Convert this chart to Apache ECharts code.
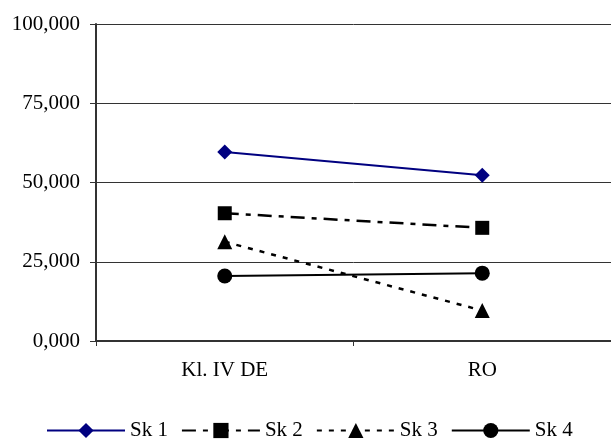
<!DOCTYPE html>
<html>
<head>
<meta charset="utf-8">
<script src="https://cdn.jsdelivr.net/npm/echarts@6/dist/echarts.min.js"></script>
<style>
html,body{margin:0;padding:0;background:#fff;}
#c{width:611px;height:439px;}
</style>
</head>
<body>
<div id="c"></div>
<script>
const categories = ['Kl. IV DE', 'RO'];
const seriesNames = ['Sk 1', 'Sk 2', 'Sk 3', 'Sk 4'];
const sk1 = [59600, 52300];
const sk2 = [40300, 35700];
const sk3 = [31300, 9600];
const sk4 = [20500, 21400];
const yTickLabels = ['0,000', '25,000', '50,000', '75,000', '100,000'];

const font = 'Liberation Serif';
const chart = echarts.init(document.getElementById('c'), null, {renderer: 'canvas'});

function mk(name, data, color, symbol, type, size, width) {
  return {
    name: name, type: 'line', data: data,
    symbol: symbol, symbolSize: size,
    lineStyle: {color: color, width: width, type: type},
    itemStyle: {color: color},
    emphasis: {disabled: true},
    animation: false
  };
}

chart.setOption({
  animation: false,
  backgroundColor: '#fff',
  grid: {left: 96, top: 24, right: -6, bottom: 98, containLabel: false},
  legend: {
    left: 46, top: 420, padding: 0,
    itemWidth: 78, itemHeight: 19, itemGap: 13,
    textStyle: {fontFamily: font, fontSize: 21, color: '#000'},
    data: seriesNames
  },
  xAxis: {
    type: 'category', data: categories, boundaryGap: true,
    axisLine: {lineStyle: {color: '#333', width: 2}},
    axisTick: {show: true, length: 5, lineStyle: {color: '#333'}},
    axisLabel: {fontFamily: font, fontSize: 21, color: '#000', margin: 19}
  },
  yAxis: {
    type: 'value', min: 0, max: 100000, interval: 25000,
    axisLine: {show: true, lineStyle: {color: '#333', width: 2}},
    axisTick: {show: true, length: 6, lineStyle: {color: '#333'}},
    axisLabel: {
      fontFamily: font, fontSize: 21, color: '#000', margin: 16,
      formatter: function (v) { return yTickLabels[Math.round(v / 25000)]; }
    },
    splitLine: {show: true, lineStyle: {color: '#333', width: 1}}
  },
  series: [
    mk(seriesNames[0], sk1, '#000080', 'diamond', 'solid', 15, 2),
    mk(seriesNames[1], sk2, '#000000', 'rect', [14, 7, 5, 7], 14, 2.5),
    mk(seriesNames[2], sk3, '#000000', 'triangle', [5, 7], 15, 2.5),
    mk(seriesNames[3], sk4, '#000000', 'circle', 'solid', 15, 2)
  ]
});
</script>
</body>
</html>
